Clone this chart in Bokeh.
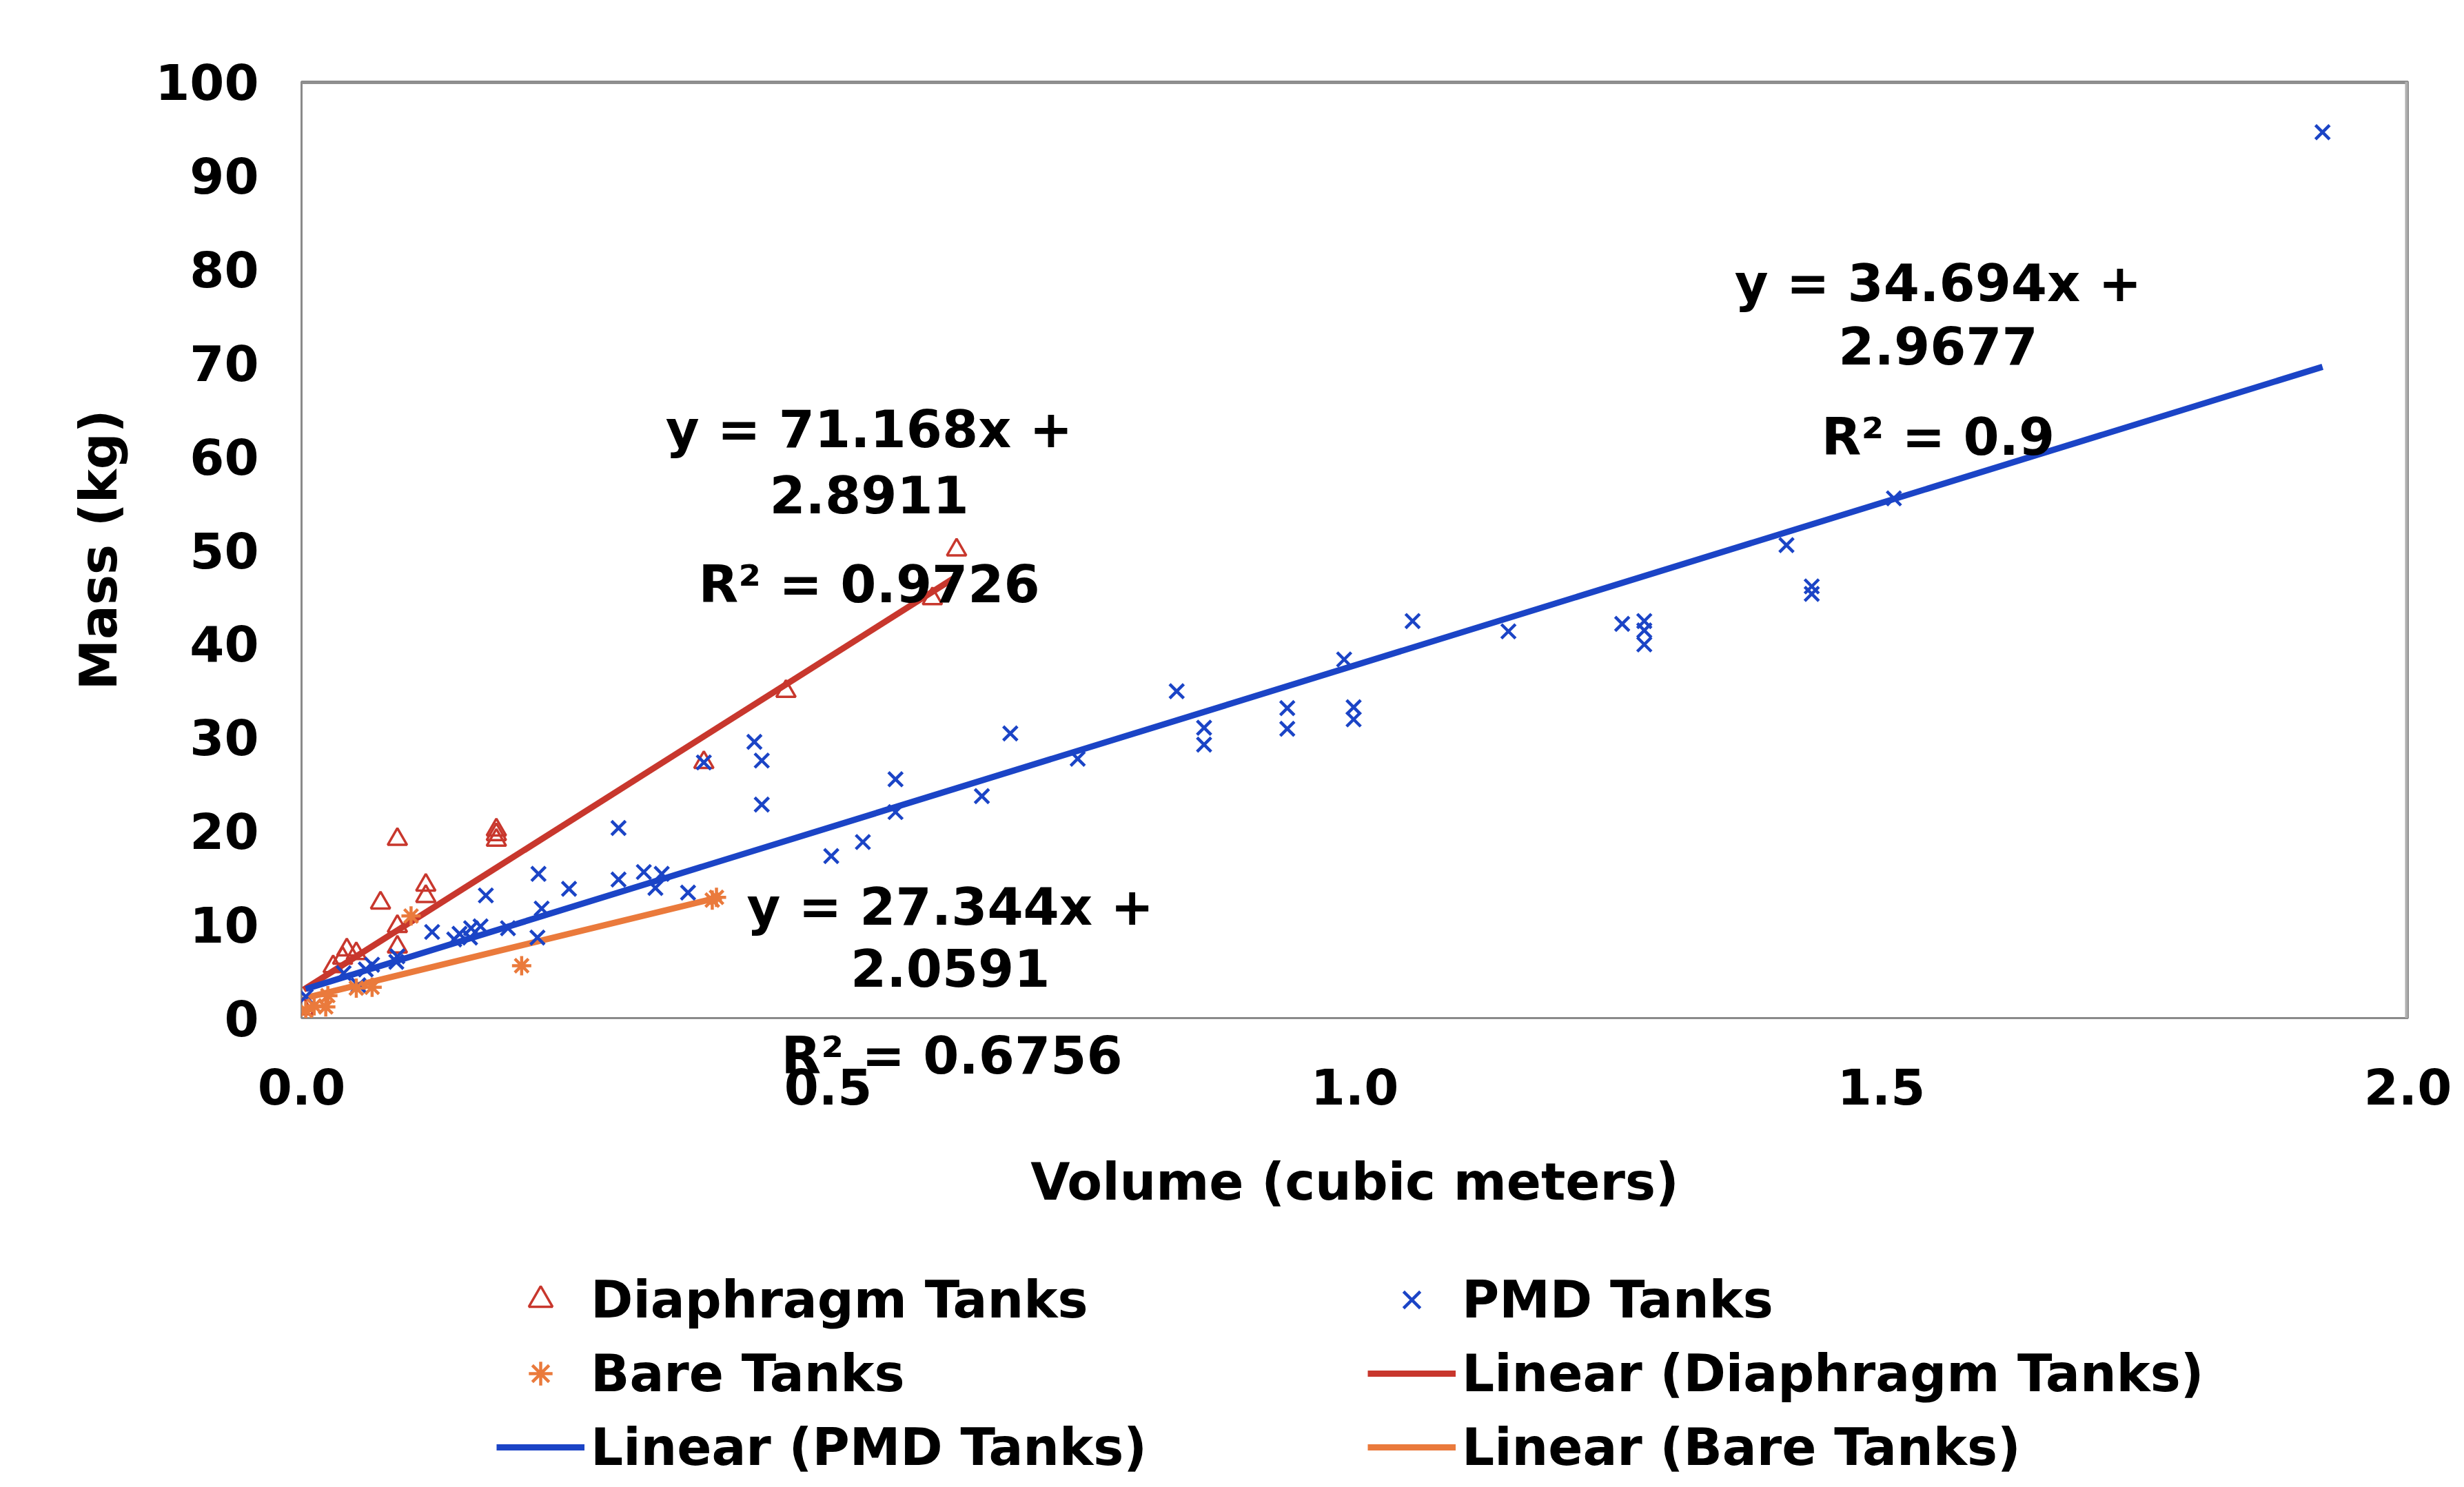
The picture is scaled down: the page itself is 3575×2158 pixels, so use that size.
from bokeh.plotting import figure
from bokeh.layouts import column
from bokeh.models import Label, Legend, LegendItem, Span, Range1d, FixedTicker, NumeralTickFormatter, Title
from bokeh.embed import file_html
from bokeh.resources import INLINE

# ---------------- data ----------------
diaphragm_vol = [0.002, 0.030, 0.039, 0.043, 0.052, 0.075, 0.091, 0.091, 0.091, 0.118, 0.118,
                 0.185, 0.185, 0.185, 0.382, 0.460, 0.599, 0.622]
diaphragm_mass = [1.0, 5.5, 6.4, 7.3, 6.9, 12.3, 19.1, 9.8, 7.6, 14.2, 13.0,
                  19.0, 19.6, 20.1, 27.3, 34.9, 44.8, 50.0]

pmd_vol = [0.004, 0.040, 0.054, 0.061, 0.067, 0.090, 0.091, 0.124, 0.145, 0.150, 0.160, 0.161,
           0.170, 0.175, 0.196, 0.224, 0.228, 0.225, 0.254, 0.301, 0.301, 0.325, 0.336, 0.342,
           0.367, 0.382, 0.430, 0.437, 0.437, 0.503, 0.533, 0.564, 0.564, 0.646, 0.673, 0.737,
           0.831, 0.857, 0.857, 0.936, 0.936, 0.990, 0.999, 0.999, 1.055, 1.146, 1.254, 1.275,
           1.275, 1.275, 1.410, 1.434, 1.434, 1.512, 1.919]
pmd_mass = [2.3, 4.8, 3.5, 5.2, 5.7, 6.0, 6.6, 9.2, 8.4, 9.0, 8.6, 9.6,
            9.8, 13.1, 9.6, 8.6, 11.7, 15.4, 13.8, 14.8, 20.3, 15.6, 13.9, 15.4,
            13.4, 27.3, 29.5, 27.5, 22.8, 17.3, 18.8, 25.5, 22.0, 23.7, 30.4, 27.7,
            34.9, 31.0, 29.2, 33.1, 30.9, 38.3, 33.2, 31.9, 42.4, 41.3, 42.1, 42.4,
            41.4, 39.9, 50.5, 46.1, 45.3, 55.5, 94.6]

bare_vol = [0.004, 0.012, 0.023, 0.025, 0.052, 0.067, 0.104, 0.209, 0.390, 0.394]
bare_mass = [0.8, 1.3, 1.2, 2.4, 3.2, 3.3, 10.9, 5.6, 12.6, 12.9]

series_names = ["Diaphragm Tanks", "PMD Tanks", "Bare Tanks"]
fit_slope = [71.168, 34.694, 27.344]
fit_intercept = [2.8911, 2.9677, 2.0591]
fit_r2 = ["0.9726", "0.9", "0.6756"]

x_ticks = [0.0, 0.5, 1.0, 1.5, 2.0]
y_ticks = [0, 10, 20, 30, 40, 50, 60, 70, 80, 90, 100]

# ---------------- styling ----------------
RED = "#c8372d"
BLUE = "#1b44c6"
ORANGE = "#ea7a3c"
FONT = "DejaVu Sans"
W = 3559

p = figure(width=W, height=1797, output_backend="svg", toolbar_location=None,
           x_range=Range1d(0, 2), y_range=Range1d(0, 100),
           min_border_left=437, min_border_right=66, min_border_top=118, min_border_bottom=320,
           background_fill_color="white", border_fill_color="white")

p.xgrid.visible = False
p.ygrid.visible = False
p.outline_line_color = "#8a8a8a"
p.outline_line_width = 3

for ax in (p.xaxis[0], p.yaxis[0]):
    ax.axis_line_color = None
    ax.major_tick_line_color = None
    ax.minor_tick_line_color = None
    ax.major_tick_out = 0
    ax.major_tick_in = 0
    ax.major_label_text_font = FONT
    ax.major_label_text_font_style = "bold"
    ax.major_label_text_font_size = "72px"
    ax.major_label_text_color = "black"
    ax.axis_label_text_font = FONT
    ax.axis_label_text_font_style = "bold"
    ax.axis_label_text_font_size = "74px"
    ax.axis_label_text_color = "black"

p.xaxis.ticker = FixedTicker(ticks=x_ticks)
p.xaxis.formatter = NumeralTickFormatter(format="0.0")
p.yaxis.ticker = FixedTicker(ticks=y_ticks)
p.yaxis.formatter = NumeralTickFormatter(format="0")
p.xaxis.axis_label = "Volume (cubic meters)"
p.yaxis.axis_label = "Mass (kg)"
p.xaxis.major_label_standoff = -35
p.xaxis.axis_label_standoff = 66
p.yaxis.major_label_standoff = 62
p.yaxis.axis_label_standoff = 36

# frame edges with a heavier top / right border
p.add_layout(Span(location=100, dimension="width", line_color="#8f8f8f", line_width=7))
p.add_layout(Span(location=2.0, dimension="height", line_color="#b0b0b0", line_width=8))

# ---------------- trend lines ----------------
vols = [diaphragm_vol, pmd_vol, bare_vol]
colors = [RED, BLUE, ORANGE]
trend_x, trend_y = [], []
for v, m, b in zip(vols, fit_slope, fit_intercept):
    xs = [min(v), max(v)]
    trend_x.append(xs)
    trend_y.append([m * x + b for x in xs])
for xs, ys, c in zip(trend_x, trend_y, colors):
    p.line(xs, ys, line_color=c, line_width=9)

# ---------------- scatter ----------------
TRI = dict(marker="triangle", size=28, line_color=RED, line_width=3.5, fill_color=None)
XX = dict(marker="x", size=29, line_color=BLUE, line_width=4.5)
AST = dict(marker="asterisk", size=28, line_color=ORANGE, line_width=4.5)
p.scatter(diaphragm_vol, diaphragm_mass, **TRI)
p.scatter(pmd_vol, pmd_mass, **XX)
p.scatter(bare_vol, bare_mass, **AST)

# ---------------- equation labels ----------------
EQ_STYLE = dict(text_font=FONT, text_font_style="bold", text_font_size="75px", text_color="black")
eq_pos = [(0.539, 62.9, 55.9, 46.3), (1.554, 78.5, 71.8, 62.1), (0.616, 11.9, 5.4)]
for pos, m, b in zip(eq_pos, fit_slope, fit_intercept):
    for yy, txt in zip(pos[1:], (f"y = {m}x +", f"{b}")):
        p.add_layout(Label(x=pos[0], y=yy, text=txt, text_align="center",
                           text_baseline="middle", **EQ_STYLE))
for pos, r2 in zip(eq_pos[:2], fit_r2[:2]):
    p.add_layout(Label(x=pos[0], y=pos[3], text=f"R\u00b2 = {r2}", text_align="center",
                       text_baseline="middle", **EQ_STYLE))
# the third R² sits below the frame, so it goes into the panel under the plot
r2_bare = Title(text=f"R\u00b2 = {fit_r2[2]}", align="left", offset=696, standoff=17, **EQ_STYLE)
p.below = [r2_bare] + list(p.below)

# ---------------- legend (separate strip below) ----------------
# the strip's ranges lie far from the data, so its renderers only feed the legend
q = figure(width=W, height=352, output_backend="svg", toolbar_location=None,
           x_range=Range1d(10, 11), y_range=Range1d(1000, 1001),
           min_border_left=0, min_border_right=0, min_border_top=0, min_border_bottom=0,
           background_fill_color="white", border_fill_color="white", outline_line_color=None)
q.xaxis.visible = False
q.yaxis.visible = False
q.xgrid.visible = False
q.ygrid.visible = False

g_dia = q.scatter(diaphragm_vol, diaphragm_mass, **TRI)
g_pmd = q.scatter(pmd_vol, pmd_mass, **XX)
g_bare = q.scatter(bare_vol, bare_mass, **AST)
g_lines = [q.line(xs, ys, line_color=c, line_width=9) for xs, ys, c in zip(trend_x, trend_y, colors)]

items = [
    LegendItem(label=series_names[0], renderers=[g_dia]),
    LegendItem(label=series_names[1], renderers=[g_pmd]),
    LegendItem(label=series_names[2], renderers=[g_bare]),
    LegendItem(label=f"Linear ({series_names[0]})", renderers=[g_lines[0]]),
    LegendItem(label=f"Linear ({series_names[1]})", renderers=[g_lines[1]]),
    LegendItem(label=f"Linear ({series_names[2]})", renderers=[g_lines[2]]),
]
legend = Legend(items=items, orientation="horizontal", ncols=2, location=(283, 6),
                label_text_font=FONT, label_text_font_style="bold", label_text_font_size="74px",
                label_text_color="black",
                glyph_width=128, glyph_height=86, label_height=86, label_width=1106,
                label_standoff=9, spacing=21, padding=0, margin=0,
                border_line_color=None, background_fill_alpha=0)
q.add_layout(legend)

layout = column(p, q, spacing=0)
open("out.html", "w").write(file_html(layout, INLINE))
